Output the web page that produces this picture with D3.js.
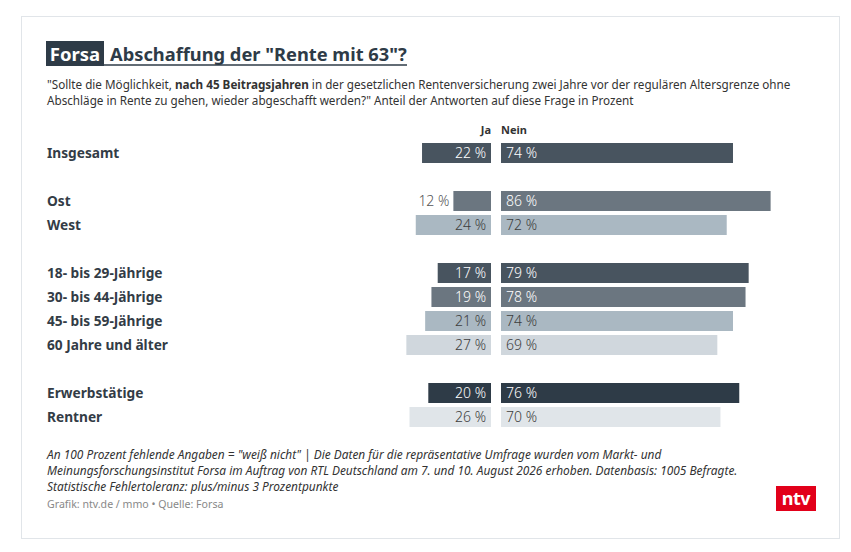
<!DOCTYPE html>
<html>
<head>
<meta charset="utf-8">
<script src="https://cdn.jsdelivr.net/npm/d3@7"></script>
<style>
  html, body { margin: 0; padding: 0; background: #fff; }
  svg { display: block; }
  text { font-family: "Noto Sans", "Open Sans", sans-serif; }
</style>
</head>
<body>
<div id="chart"></div>
<script>
// ---- data ----
const categories = ["Insgesamt", "Ost", "West", "18- bis 29-Jährige", "30- bis 44-Jährige", "45- bis 59-Jährige", "60 Jahre und älter", "Erwerbstätige", "Rentner"];
const groups = [0, 1, 1, 2, 2, 2, 2, 3, 3];
const jaValues = [22, 12, 24, 17, 19, 21, 27, 20, 26];
const neinValues = [74, 86, 72, 79, 78, 74, 69, 76, 70];
const seriesLabels = ["Ja", "Nein"];
const barColors = ["#48545f", "#6b7680", "#aab8c2", "#48545f", "#6b7680", "#aab8c2", "#d0d7dd", "#2e3b47", "#e0e5e9"];
const labelColors = ["#ffffff", "#ffffff", "#3d3d3d", "#ffffff", "#ffffff", "#3d3d3d", "#3d3d3d", "#ffffff", "#3d3d3d"];

const W = 851, H = 552;
const svg = d3.select("#chart").append("svg").attr("width", W).attr("height", H);

svg.append("rect").attr("x", 0).attr("y", 0).attr("width", W).attr("height", H).attr("fill", "#fff");
// frame
svg.append("rect").attr("x", 21.5).attr("y", 16.5).attr("width", 818).attr("height", 522)
  .attr("fill", "none").attr("stroke", "#e1e5e9").attr("stroke-width", 1);

// ---- header ----
svg.append("rect").attr("x", 46).attr("y", 41).attr("width", 58).attr("height", 25).attr("fill", "#2e3b47");
svg.append("text").attr("x", 75).attr("y", 60.5).attr("text-anchor", "middle")
  .attr("font-size", 18.5).attr("font-weight", 700).attr("fill", "#fff").text("Forsa");
svg.append("text").attr("x", 110).attr("y", 60.5)
  .attr("font-size", 18.3).attr("font-weight", 700).attr("fill", "#2e3b47").text('Abschaffung der "Rente mit 63"?');
svg.append("line").attr("x1", 104).attr("x2", 407).attr("y1", 65).attr("y2", 65)
  .attr("stroke", "#2e3b47").attr("stroke-width", 1.5);

const sub1 = svg.append("text").attr("x", 47).attr("y", 89).attr("font-size", 11.7).attr("fill", "#333");
sub1.append("tspan").text('"Sollte die Möglichkeit, ');
sub1.append("tspan").attr("font-weight", 700).text("nach 45 Beitragsjahren");
sub1.append("tspan").text(" in der gesetzlichen Rentenversicherung zwei Jahre vor der regulären Altersgrenze ohne");
svg.append("text").attr("x", 47).attr("y", 105).attr("font-size", 11.7).attr("fill", "#333")
  .text('Abschläge in Rente zu gehen, wieder abgeschafft werden?" Anteil der Antworten auf diese Frage in Prozent');

// ---- scales ----
const slots = categories.map((c, i) => i + groups[i]);
const y = d3.scaleBand().domain(d3.range(12)).range([141, 429]).paddingInner(1 / 6).paddingOuter(1 / 12);
const xJa = d3.scaleLinear().domain([0, 100]).range([491, 491 - 313.5]);
const xNein = d3.scaleLinear().domain([0, 100]).range([501, 501 + 313.5]);

// column headers
svg.append("text").attr("x", xJa(0)).attr("y", 133.5).attr("text-anchor", "end")
  .attr("font-size", 11).attr("font-weight", 700).attr("fill", "#333").text(seriesLabels[0]);
svg.append("text").attr("x", xNein(0)).attr("y", 133.5).attr("text-anchor", "start")
  .attr("font-size", 11).attr("font-weight", 700).attr("fill", "#333").text(seriesLabels[1]);

const rows = categories.map((c, i) => ({ c, i, slot: slots[i], ja: jaValues[i], nein: neinValues[i] }));

const g = svg.append("g");
const row = g.selectAll("g.row").data(rows).join("g").attr("class", "row");

row.append("text")
  .attr("x", 47).attr("y", d => y(d.slot) + y.bandwidth() / 2).attr("dy", "0.36em")
  .attr("font-size", 13.7).attr("font-weight", 700).attr("fill", "#333c46").text(d => d.c);

row.append("rect")
  .attr("x", d => xJa(d.ja)).attr("y", d => y(d.slot))
  .attr("width", d => xJa(0) - xJa(d.ja)).attr("height", y.bandwidth())
  .attr("fill", d => barColors[d.i]);
row.append("rect")
  .attr("x", xNein(0)).attr("y", d => y(d.slot))
  .attr("width", d => xNein(d.nein) - xNein(0)).attr("height", y.bandwidth())
  .attr("fill", d => barColors[d.i]);

const fmt = v => v + " %";
row.append("text")
  .attr("x", d => (xJa(0) - xJa(d.ja) < 45) ? xJa(d.ja) - 4 : xJa(0) - 5)
  .attr("y", d => y(d.slot) + y.bandwidth() / 2).attr("dy", "0.36em")
  .attr("text-anchor", "end").attr("font-size", 14).attr("font-weight", 300)
  .attr("fill", d => (xJa(0) - xJa(d.ja) < 45) ? "#555" : labelColors[d.i])
  .text(d => fmt(d.ja));
row.append("text")
  .attr("x", xNein(0) + 5)
  .attr("y", d => y(d.slot) + y.bandwidth() / 2).attr("dy", "0.36em")
  .attr("text-anchor", "start").attr("font-size", 14).attr("font-weight", 300)
  .attr("fill", d => labelColors[d.i])
  .text(d => fmt(d.nein));

// ---- footer ----
const foot = [
  'An 100 Prozent fehlende Angaben = "weiß nicht" | Die Daten für die repräsentative Umfrage wurden vom Markt- und',
  'Meinungsforschungsinstitut Forsa im Auftrag von RTL Deutschland am 7. und 10. August 2026 erhoben. Datenbasis: 1005 Befragte.',
  'Statistische Fehlertoleranz: plus/minus 3 Prozentpunkte'
];
svg.selectAll("text.foot").data(foot).join("text").attr("class", "foot")
  .attr("x", 47).attr("y", (d, i) => 459 + i * 16)
  .attr("font-size", 11.9).attr("font-style", "italic").attr("fill", "#333").text(d => d);
svg.append("text").attr("x", 47).attr("y", 508).attr("font-size", 10.6).attr("fill", "#888")
  .text("Grafik: ntv.de / mmo • Quelle: Forsa");

// ntv logo
svg.append("rect").attr("x", 776).attr("y", 486).attr("width", 40).attr("height", 25).attr("fill", "#e2001a");
svg.append("text").attr("x", 796).attr("y", 504.5).attr("text-anchor", "middle")
  .attr("font-size", 18).attr("font-weight", 700).attr("fill", "#fff").attr("letter-spacing", -0.5).text("ntv");
</script>
</body>
</html>
